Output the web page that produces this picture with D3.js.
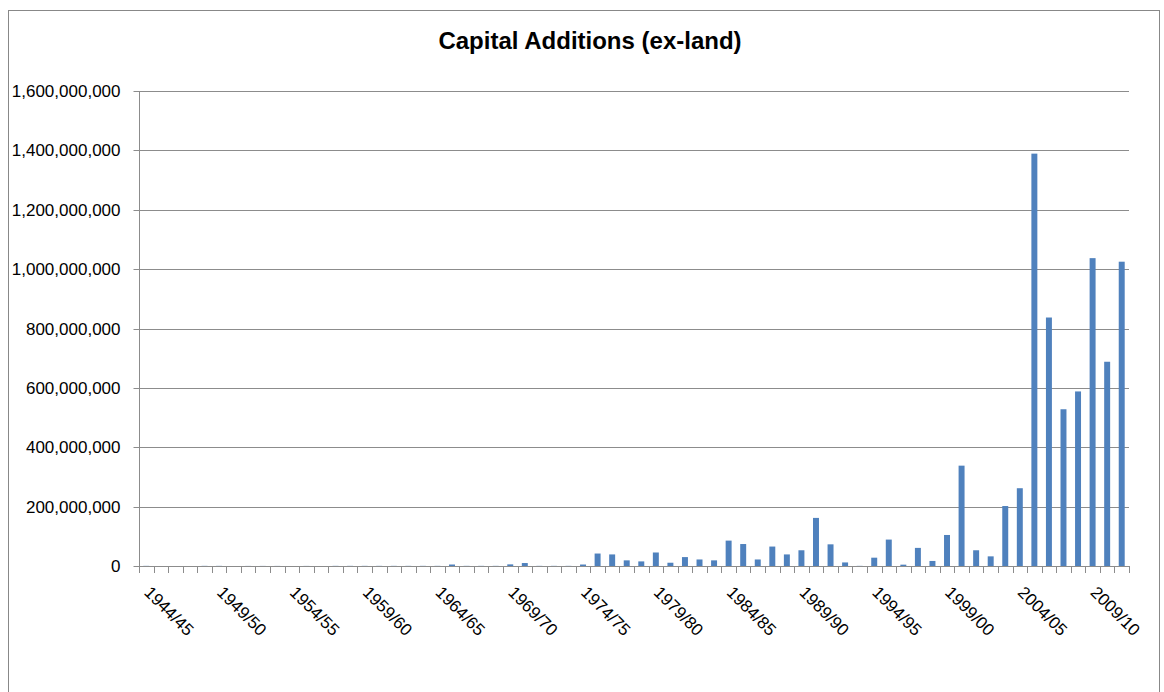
<!DOCTYPE html>
<html>
<head>
<meta charset="utf-8">
<script src="https://cdn.jsdelivr.net/npm/d3@7"></script>
<style>
  html, body { margin: 0; padding: 0; background: #fff; }
  svg { display: block; }
  text { font-family: "Liberation Sans", Arial, sans-serif; fill: #000; }
</style>
</head>
<body>
<svg id="chart" width="1164" height="692"></svg>
<script>
const categories = [
  "1944/45","1945/46","1946/47","1947/48","1948/49","1949/50","1950/51","1951/52","1952/53","1953/54",
  "1954/55","1955/56","1956/57","1957/58","1958/59","1959/60","1960/61","1961/62","1962/63","1963/64",
  "1964/65","1965/66","1966/67","1967/68","1968/69","1969/70","1970/71","1971/72","1972/73","1973/74",
  "1974/75","1975/76","1976/77","1977/78","1978/79","1979/80","1980/81","1981/82","1982/83","1983/84",
  "1984/85","1985/86","1986/87","1987/88","1988/89","1989/90","1990/91","1991/92","1992/93","1993/94",
  "1994/95","1995/96","1996/97","1997/98","1998/99","1999/00","2000/01","2001/02","2002/03","2003/04",
  "2004/05","2005/06","2006/07","2007/08","2008/09","2009/10","2010/11","2011/12"
];
const values = [
  500000, 0, 0, 0, 500000, 500000, 0, 300000, 300000, 300000,
  0, 300000, 0, 500000, 500000, 500000, 500000, 500000, 500000, 500000,
  500000, 5000000, 500000, 500000, 500000, 5500000, 10000000, 500000, 500000, 500000,
  5000000, 42000000, 39000000, 19000000, 15500000, 45500000, 11000000, 30000000, 22000000, 19000000,
  85500000, 74000000, 22000000, 65500000, 39000000, 53000000, 162000000, 73000000, 12000000, 500000,
  28000000, 89000000, 4500000, 61000000, 17000000, 104500000, 338000000, 53000000, 32500000, 202000000,
  262000000, 1389000000, 837000000, 528000000, 588000000, 1037000000, 688000000, 1025000000
];
const yTicks = [0, 200000000, 400000000, 600000000, 800000000, 1000000000, 1200000000, 1400000000, 1600000000];
const title = "Capital Additions (ex-land)";

const svg = d3.select("#chart");
const plot = { left: 139, right: 1129, top: 91, bottom: 566 };

// outer border
svg.append("rect")
  .attr("x", 8.5).attr("y", 10.5)
  .attr("width", 1151).attr("height", 700)
  .attr("fill", "none").attr("stroke", "#888888").attr("stroke-width", 1);

const x = d3.scaleBand().domain(categories).range([plot.left, plot.right]).paddingInner(0.59).paddingOuter(0.295);
const xb = d3.scaleBand().domain(categories).range([plot.left, plot.right]);
const y = d3.scaleLinear().domain([0, 1600000000]).range([plot.bottom, plot.top]);

// gridlines
svg.append("g").selectAll("line").data(yTicks.filter(d => d > 0)).join("line")
  .attr("x1", plot.left).attr("x2", plot.right)
  .attr("y1", d => Math.round(y(d)) + 0.5).attr("y2", d => Math.round(y(d)) + 0.5)
  .attr("stroke", "#8c8c8c").attr("stroke-width", 1);

// y axis
const yAxis = d3.axisLeft(y).tickValues(yTicks).tickFormat(d3.format(",")).tickSize(6).tickPadding(13);
const gy = svg.append("g").attr("transform", `translate(${plot.left + 0.5},0)`).call(yAxis);
gy.selectAll("path,line").attr("stroke", "#8c8c8c");
gy.select(".domain").attr("d", `M0,${plot.top}V${plot.bottom}`);
gy.selectAll(".tick").attr("transform", d => `translate(0,${Math.round(y(d)) + 0.5})`);
gy.selectAll("text").attr("font-size", "17px").attr("font-family", "Liberation Sans, Arial, sans-serif").attr("fill", "#000");

// bars
svg.append("g").selectAll("rect").data(values).join("rect")
  .attr("x", (d, i) => x(categories[i]))
  .attr("width", x.bandwidth())
  .attr("y", d => y(d))
  .attr("height", d => plot.bottom - y(d))
  .attr("fill", "#4f81bd");

// x axis baseline
svg.append("line")
  .attr("x1", plot.left).attr("x2", plot.right)
  .attr("y1", plot.bottom + 0.5).attr("y2", plot.bottom + 0.5)
  .attr("stroke", "#8c8c8c");

// x tick marks at category boundaries
const bounds = categories.map(c => xb(c)).concat([plot.right]);
svg.append("g").selectAll("line").data(bounds).join("line")
  .attr("x1", d => Math.round(d) + 0.5).attr("x2", d => Math.round(d) + 0.5)
  .attr("y1", plot.bottom).attr("y2", plot.bottom + 7)
  .attr("stroke", "#8c8c8c");

// x labels every 5 categories
svg.append("g").selectAll("text").data(categories.filter((c, i) => i % 5 === 0)).join("text")
  .attr("transform", c => `translate(${xb(c) + xb.bandwidth() / 2 - 3},593.5) rotate(45)`)
  .attr("text-anchor", "start")
  .attr("font-size", "17px")
  .text(c => c);

// title
svg.append("text")
  .attr("x", 590).attr("y", 49)
  .attr("text-anchor", "middle")
  .attr("font-size", "24px").attr("font-weight", "bold")
  .text(title);
</script>
</body>
</html>
